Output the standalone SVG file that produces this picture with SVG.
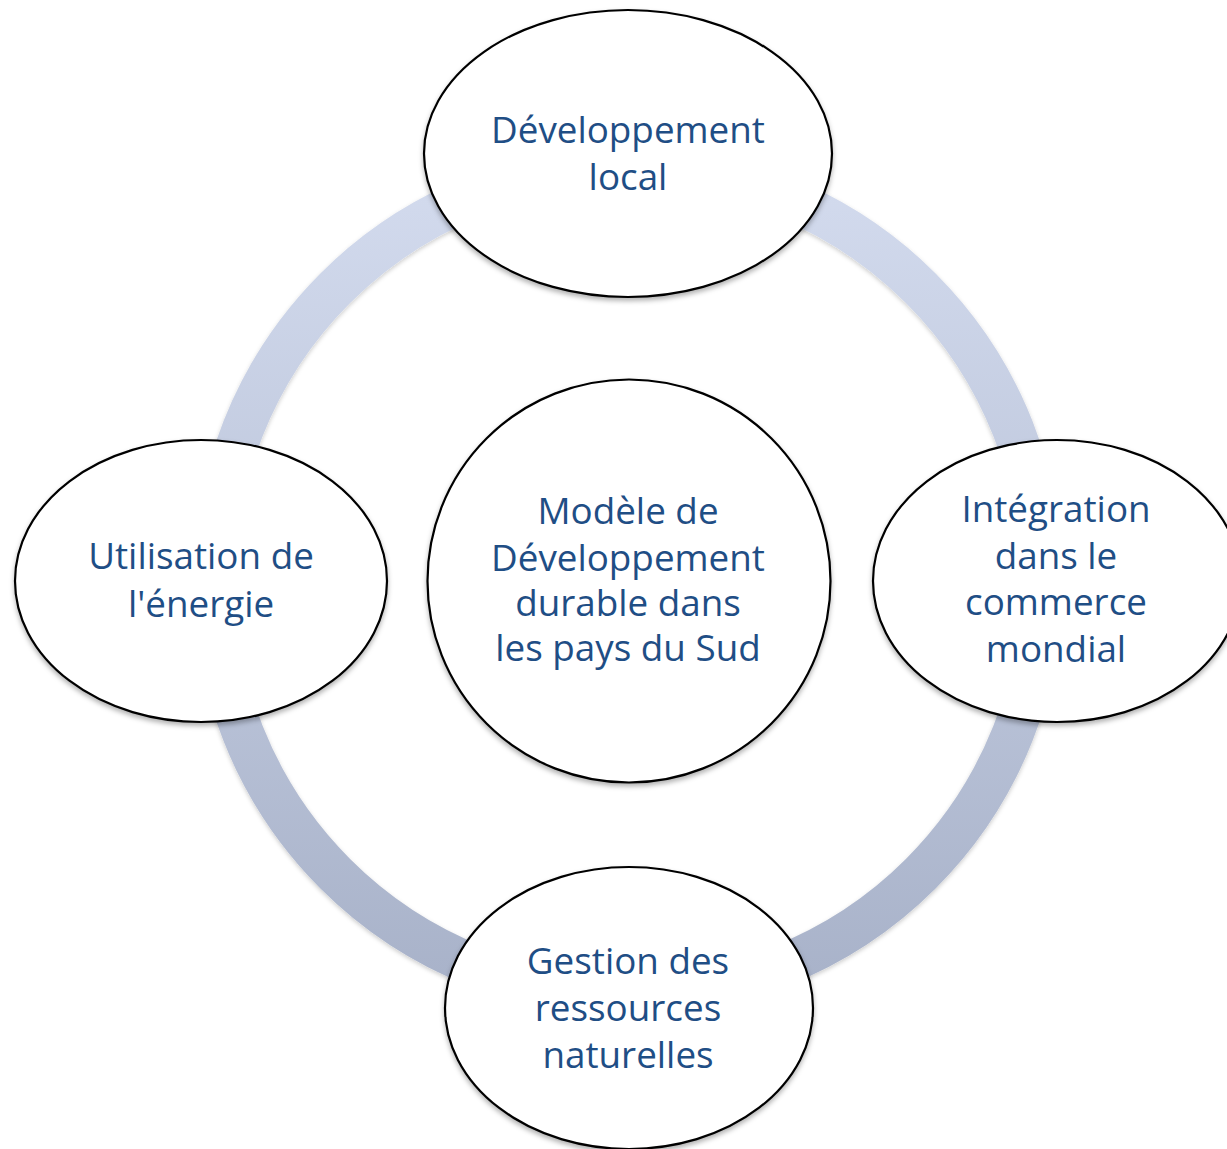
<svg xmlns="http://www.w3.org/2000/svg" width="1227" height="1149" viewBox="0 0 1227 1149">
<style>
.node{fill:#ffffff;stroke:#000000;stroke-width:2.2;filter:url(#sh)}
.lbl{font-family:"Open Sans","Noto Sans","Liberation Sans",sans-serif;font-size:36.8px;fill:#1f4e85;text-anchor:middle}
</style>
<defs>
<linearGradient id="rg" gradientUnits="userSpaceOnUse" x1="0" y1="167" x2="0" y2="995">
<stop offset="0" stop-color="#d3dbee"/>
<stop offset="1" stop-color="#a8b2c9"/>
</linearGradient>
<filter id="sh" x="-10%" y="-10%" width="120%" height="125%">
<feDropShadow dx="0" dy="3" stdDeviation="2.5" flood-color="#000" flood-opacity="0.3"/>
</filter>
<filter id="rs" x="-10%" y="-10%" width="120%" height="120%">
<feDropShadow dx="0" dy="2" stdDeviation="2" flood-color="#000" flood-opacity="0.2"/>
</filter>
</defs>
<rect width="1227" height="1149" fill="#ffffff"/>
<g id="connectors">
<circle cx="628" cy="581" r="414" fill="none" stroke="url(#rg)" stroke-width="42" filter="url(#rs)"/>
</g>
<g id="node-top">
<ellipse class="node" cx="628" cy="153.5" rx="204" ry="143.5"/>
<text class="lbl" x="628" y="143">Développement</text>
<text class="lbl" x="628" y="190">local</text>
</g>
<g id="node-left">
<ellipse class="node" cx="201" cy="581" rx="186" ry="141"/>
<text class="lbl" x="201" y="569">Utilisation de</text>
<text class="lbl" x="201" y="617">l'énergie</text>
</g>
<g id="node-right">
<ellipse class="node" cx="1057" cy="581" rx="184" ry="141"/>
<text class="lbl" x="1056" y="522">Intégration</text>
<text class="lbl" x="1056" y="569">dans le</text>
<text class="lbl" x="1056" y="615">commerce</text>
<text class="lbl" x="1056" y="662">mondial</text>
</g>
<g id="node-bottom">
<ellipse class="node" cx="629" cy="1008" rx="184" ry="141"/>
<text class="lbl" x="628" y="974">Gestion des</text>
<text class="lbl" x="628" y="1021">ressources</text>
<text class="lbl" x="628" y="1068">naturelles</text>
</g>
<g id="node-center">
<circle class="node" cx="629" cy="581" r="201.5"/>
<text class="lbl" x="628" y="524">Modèle de</text>
<text class="lbl" x="628" y="571">Développement</text>
<text class="lbl" x="628" y="616">durable dans</text>
<text class="lbl" x="628" y="661">les pays du Sud</text>
</g>
</svg>
